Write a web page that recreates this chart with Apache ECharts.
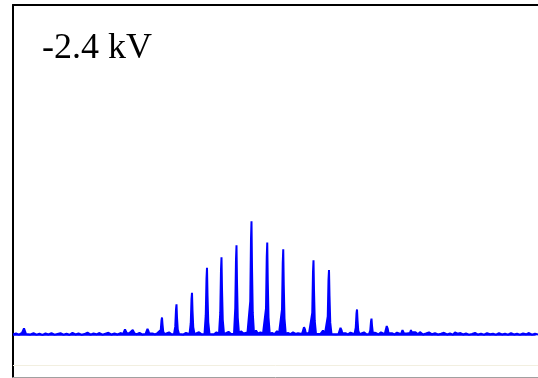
<!DOCTYPE html>
<html>
<head>
<meta charset="utf-8">
<script src="https://cdn.jsdelivr.net/npm/echarts@6/dist/echarts.min.js"></script>
<style>
html,body{margin:0;padding:0;background:#fff;}
#chart{width:538px;height:378px;}
</style>
</head>
<body>
<div id="chart"></div>
<script>
// Label
const voltageLabel = "-2.4 kV";

// Axis ranges (m/z, relative intensity)
const mzRange = [400, 2500];
const intensityRange = [-36, 289];

// Peak profiles [m/z, intensity]
const peakProfiles = [
  [930,1.5],[935,2.5],[938,6],[940,7],[942,4],[945,2],[950,1.5],
  [986,1.5],[991,5],[994,13.5],[996,16],[998,10],[1001,3.5],[1006,1.5],
  [1044,1.5],[1049,8],[1052,23],[1054,27.5],[1056,16],[1059,5.5],[1064,1.5],
  [1106,1.5],[1111,11],[1114,32],[1116,37.5],[1118,22],[1121,7.5],[1126,1.5],
  [1166,1.5],[1171,18],[1174,50],[1176,59.5],[1178,36],[1181,12],[1186,1.5],
  [1224,1.5],[1229,20],[1232,58],[1234,68.5],[1236,41],[1239,14],[1244,1.5],
  [1284,1.5],[1289,24],[1292,67],[1294,79],[1296,47],[1299,16],[1304,1.5],
  [1344,2],[1349,30],[1352,85],[1354,100],[1356,60],[1359,20],[1364,2],
  [1407,1.5],[1412,24],[1415,69],[1417,81.5],[1419,49],[1422,16],[1427,1.5],
  [1471,1.5],[1476,23],[1479,64],[1481,75.5],[1483,45],[1486,15],[1491,1.5],
  [1556,1.5],[1561,3],[1564,7.5],[1566,9],[1568,5.5],[1571,2.5],[1576,1.5],
  [1592,1.5],[1597,20],[1600,56],[1602,66],[1604,40],[1607,13],[1612,1.5],
  [1654,1.5],[1659,17],[1662,49],[1664,57.5],[1666,35],[1669,11.5],[1674,1.5],
  [1702,1.5],[1707,3],[1710,7],[1712,8],[1714,5],[1717,2.5],[1722,1.5],
  [1766,1.5],[1771,7],[1774,19.5],[1776,23],[1778,14],[1781,4.5],[1786,1.5],
  [1824,1.5],[1829,4.5],[1832,12.5],[1834,15],[1836,9],[1839,3],[1844,1.5],
  [1887,1.5],[1892,3],[1895,8.5],[1897,10],[1899,6],[1902,2.5],[1907,1.5],
  [1952,1.5],[1956,2.5],[1958,5],[1960,6],[1962,4],[1964,2],[1968,1.5],
  [1984,1.5],[1988,2.5],[1990,4],[1992,5],[1994,3],[1996,2],[2000,1.5]
];

// Baseline noise [m/z, intensity]
const baselineNoise = [
  [400,1.2],[412,2],[424,1],[436,2.5],[444,6.5],[452,1.5],[460,3],[470,1.2],[482,2.2],[494,1],
  [506,1.8],[518,0.8],[530,2],[542,1.2],[554,2.4],[566,1],[578,1.6],[590,2.2],[602,1],[614,1.8],
  [626,0.9],[638,2.6],[650,1.2],[662,2],[674,1],[686,1.5],[698,2.8],[710,1],[722,2],[734,1.3],
  [746,2.4],[758,1],[770,1.8],[782,2.6],[794,1.1],[806,2],[818,1.2],[830,2.4],[840,1.5],[848,5.5],
  [856,1.8],[866,2.4],[872,1.2],[879,5],[886,2],[896,1.4],[906,2.6],[916,1.2],[924,2],
  [958,2],[968,1.2],[978,2.4],
  [1014,1.5],[1024,3],[1034,1.3],
  [1072,2],[1082,1.2],[1092,2.6],[1100,1.5],
  [1134,1.8],[1144,3.2],[1154,1.3],[1160,2.2],
  [1194,2.4],[1204,1.4],[1214,3],
  [1252,1.6],[1262,3.5],[1272,1.5],
  [1312,4],[1322,2],[1330,2.6],[1338,3],
  [1372,4.5],[1380,2],[1390,3],[1400,2],
  [1436,2.5],[1446,1.5],[1456,4],[1464,2],
  [1500,2.5],[1510,1.5],[1520,3],[1530,1.6],[1540,2.2],[1548,1.4],
  [1584,2],
  [1620,3],[1630,1.6],[1640,4.5],[1648,2],
  [1682,2.6],[1692,1.4],
  [1730,2.2],[1740,1.3],[1750,2.8],[1758,1.5],
  [1794,2],[1804,3],[1814,1.4],
  [1852,2.4],[1862,1.3],[1872,3],[1880,1.5],
  [1916,2.2],[1926,1.3],[1936,2.8],[1944,1.5],
  [1976,2],
  [2010,3],[2020,1.4],[2028,3.2],[2040,1.2],[2052,2],[2064,3],[2076,1.3],[2088,2.2],[2100,1.1],[2112,1.8],
  [2124,2.6],[2136,1.2],[2148,2],[2160,1],[2168,3],[2178,1.8],[2190,2.4],[2200,1.2],[2212,2],[2224,1],
  [2236,1.7],[2248,2.5],[2260,1.1],[2272,1.9],[2284,1],[2296,2.2],[2308,1.3],[2320,1.8],[2332,1],[2344,2.3],
  [2356,1.2],[2368,1.9],[2380,1],[2392,2.4],[2404,1.2],[2416,1.8],[2428,1],[2440,2],[2452,1.3],[2464,2.4],
  [2476,1],[2488,1.8],[2500,1.2]
];

const spectrum = baselineNoise.concat(peakProfiles).sort((a, b) => a[0] - b[0]);

const chart = echarts.init(document.getElementById('chart'), null, {renderer: 'canvas'});
chart.setOption({
  animation: false,
  backgroundColor: '#ffffff',
  title: {
    text: voltageLabel,
    left: 37,
    top: 26,
    textStyle: {
      fontFamily: '"Liberation Serif", "Times New Roman", serif',
      fontSize: 36,
      fontWeight: 'normal',
      color: '#000000'
    }
  },
  grid: {left: 13, right: 0, top: 5, bottom: 1, containLabel: false},
  xAxis: [
    {
      type: 'value', min: mzRange[0], max: mzRange[1], position: 'bottom',
      axisLine: {show: true, onZero: false, lineStyle: {color: '#a0a0a0', width: 1}},
      axisTick: {show: false}, axisLabel: {show: false}, splitLine: {show: false}
    },
    {
      type: 'value', min: mzRange[0], max: mzRange[1], position: 'top',
      axisLine: {show: true, onZero: false, lineStyle: {color: '#000000', width: 2}},
      axisTick: {show: false}, axisLabel: {show: false}, splitLine: {show: false}
    }
  ],
  yAxis: {
    type: 'value', min: intensityRange[0], max: intensityRange[1],
    axisLine: {show: true, onZero: false, lineStyle: {color: '#000000', width: 2}},
    axisTick: {show: false}, axisLabel: {show: false}, splitLine: {show: false}
  },
  series: [{
    type: 'line',
    data: spectrum,
    showSymbol: false,
    symbol: 'none',
    smooth: false,
    lineStyle: {color: '#0000ff', width: 2},
    areaStyle: {color: '#0000ff', opacity: 1, origin: 0},
    markLine: {
      silent: true,
      symbol: 'none',
      label: {show: false},
      lineStyle: {color: '#f2efe0', width: 1, type: 'solid'},
      data: [{yAxis: -26}]
    }
  }]
});
</script>
</body>
</html>
